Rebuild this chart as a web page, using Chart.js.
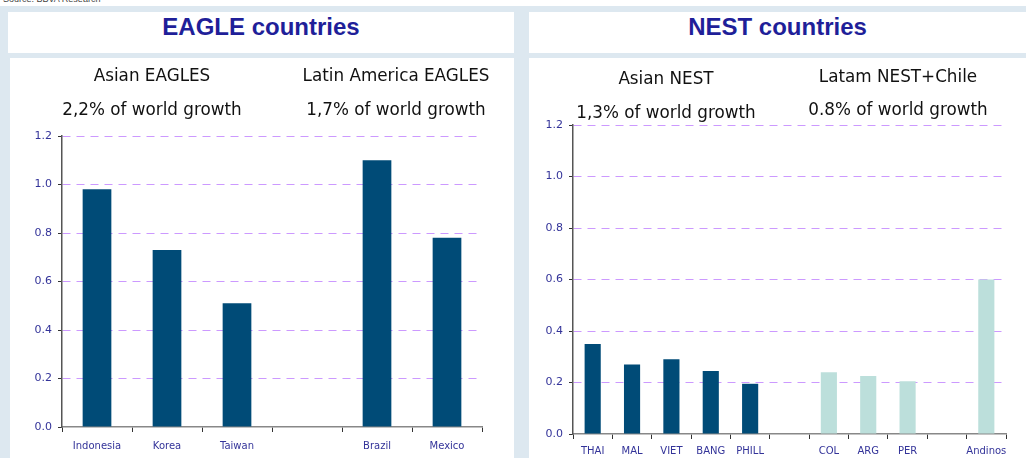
<!DOCTYPE html>
<html lang="en">
<head>
<meta charset="UTF-8">
<title>EAGLE and NEST countries</title>
<script src="https://cdn.jsdelivr.net/npm/chart.js@4"></script>
<style>
  body { margin: 0; width: 1026px; height: 458px; overflow: hidden; background: #fff; position: relative; font-family: 'DejaVu Sans', sans-serif; }
  .marco { position: absolute; left: 0; top: 6px; width: 1026px; height: 452px; background: #dde8f0; }
  .fuente { position: absolute; left: 3px; top: -6px; font: 9px/10px 'Liberation Sans', Arial, sans-serif; color: #444; white-space: nowrap; }
  .titulo-box { position: absolute; top: 12px; height: 41px; background: #fff; }
  .titulo-box h2 { margin: 0; padding-top: 1px; text-align: center; font: bold 24px/27px 'Liberation Sans', Arial, sans-serif; color: #1f1f99; }
  .grafico { position: absolute; top: 58px; height: 400px; background: #fff; }
  .grafico canvas { position: absolute; left: 0; top: 0; }
  .nota { position: absolute; width: 300px; text-align: center; font-size: 16.8px; line-height: 20px; color: #111; white-space: nowrap; }
</style>
</head>
<body>
  <div class="marco"></div>
  <div class="fuente">Source: BBVA Research</div>

  <div class="titulo-box" style="left:8px; width:506px;"><h2>EAGLE countries</h2></div>
  <div class="titulo-box" style="left:529px; width:497px;"><h2>NEST countries</h2></div>

  <div class="grafico" style="left:10px; width:504px;">
    <canvas id="eagleChart" width="504" height="400"></canvas>
    <div class="nota" style="left:-8px; top:7px;">Asian EAGLES</div>
    <div class="nota" style="left:-8px; top:41px;">2,2% of world growth</div>
    <div class="nota" style="left:236px; top:7px;">Latin America EAGLES</div>
    <div class="nota" style="left:236px; top:41px;">1,7% of world growth</div>
  </div>

  <div class="grafico" style="left:529px; width:497px;">
    <canvas id="nestChart" width="497" height="400"></canvas>
    <div class="nota" style="left:-13px; top:10px;">Asian NEST</div>
    <div class="nota" style="left:-13px; top:44px;">1,3% of world growth</div>
    <div class="nota" style="left:219px; top:8px;">Latam NEST+Chile</div>
    <div class="nota" style="left:219px; top:41px;">0.8% of world growth</div>
  </div>

<script>
  // Aportacion al crecimiento mundial por pais (pp)
  const eagleLabels = ['Indonesia', 'Korea', 'Taiwan', '', 'Brazil', 'Mexico'];
  const eagleValues = [0.98, 0.73, 0.51, null, 1.10, 0.78];

  const nestLabels = ['THAI', 'MAL', 'VIET', 'BANG', 'PHILL', '', 'COL', 'ARG', 'PER', '', 'Andinos'];
  const nestValues = [0.35, 0.27, 0.29, 0.245, 0.195, null, 0.24, 0.225, 0.205, null, 0.60];
  const nestRegion = ['Asia', 'Asia', 'Asia', 'Asia', 'Asia', '', 'Latam', 'Latam', 'Latam', '', 'Latam'];

  const yTicks = { min: 0, max: 1.2, step: 0.2 };

  const azulOscuro = '#004b77';
  const verdeClaro = '#bcdfdb';
  const lila = '#cc99ff';
  const textoEje = '#333399';

  Chart.defaults.font.family = "'DejaVu Sans', sans-serif";

  function crearGrafico(id, labels, values, colors, caja) {
    const ctx = document.getElementById(id).getContext('2d');
    return new Chart(ctx, {
      type: 'bar',
      data: {
        labels: labels,
        datasets: [{
          data: values,
          backgroundColor: colors,
          borderWidth: 0,
          barPercentage: 0.41,
          categoryPercentage: 1
        }]
      },
      options: {
        responsive: false,
        animation: false,
        layout: { padding: { left: 0, top: caja.top, right: caja.right, bottom: 0 } },
        plugins: { legend: { display: false }, tooltip: { enabled: false } },
        scales: {
          x: {
            ticks: { color: textoEje, font: { size: 10 }, padding: caja.xPad, maxRotation: 0, autoSkip: false },
            grid: { offset: true, drawOnChartArea: false, tickLength: 5, color: '#333', tickColor: '#333' },
            border: { color: '#888', width: 1.5 },
            afterFit: s => { s.height = caja.xHeight; }
          },
          y: {
            min: yTicks.min,
            max: yTicks.max,
            ticks: {
              stepSize: yTicks.step,
              color: textoEje,
              font: { size: 11 },
              padding: 6,
              callback: v => Number(v).toFixed(1)
            },
            grid: {
              color: c => (c.tick && Math.abs(c.tick.value) < 1e-9) ? 'rgba(0,0,0,0)' : lila,
              lineWidth: 1,
              tickLength: 4,
              tickColor: '#333',
              tickBorderDash: []
            },
            border: { color: '#555', width: 1.5, dash: [8, 6] },
            afterFit: s => { s.width = caja.yWidth; }
          }
        }
      }
    });
  }

  // Grafico EAGLE
  crearGrafico('eagleChart', eagleLabels, eagleValues, azulOscuro,
    { top: 78, right: 32, yWidth: 52, xHeight: 31, xPad: 8 });

  // Grafico NEST: Asia en azul, Latam en verde claro
  const nestColors = nestRegion.map(r => r === 'Latam' ? verdeClaro : azulOscuro);
  crearGrafico('nestChart', nestLabels, nestValues, nestColors,
    { top: 67, right: 20, yWidth: 44, xHeight: 24, xPad: 6 });
</script>
</body>
</html>
